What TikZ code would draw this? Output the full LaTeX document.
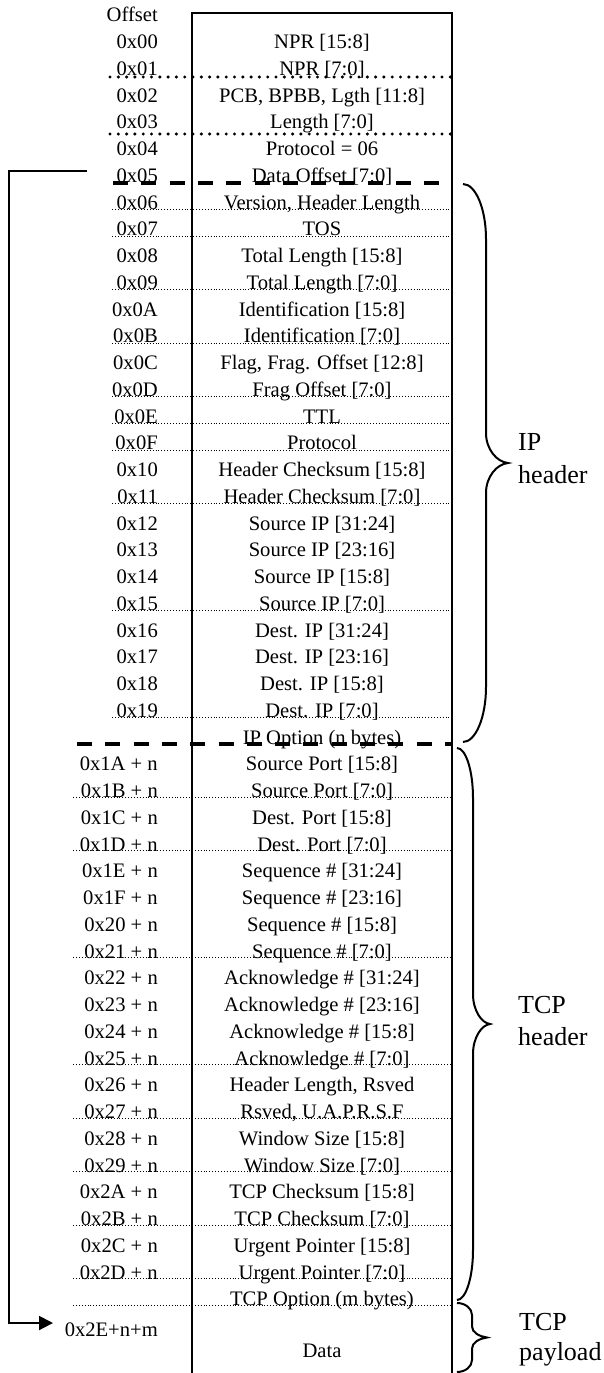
\documentclass[tikz,border=0pt]{standalone}
\usepackage{fontspec}
\setmainfont{Liberation Serif}
\usetikzlibrary{arrows.meta}
\tikzset{
  field/.style={anchor=base, font=\fontsize{20.6}{24}\selectfont, inner sep=0pt},
  offs/.style={anchor=base east, font=\fontsize{20.6}{24}\selectfont, inner sep=0pt},
  lab/.style={anchor=base west, font=\fontsize{26}{30}\selectfont, inner sep=0pt},
  boxline/.style={line width=2pt, line join=miter},
  thickdot/.style={line width=3.4pt, line cap=round, dash pattern=on 0pt off 8.3pt},
  thindot/.style={line width=0.9pt, dash pattern=on 0.9pt off 2pt},
  bigdash/.style={line width=4pt, dash pattern=on 15pt off 13.3pt},
  bracestyle/.style={line width=2pt},
  link/.style={line width=2pt, -{Triangle[length=14pt,width=14pt]}},
}
% #1 x0, #2 xs, #3 xt, #4 ytop, #5 ybot, #6 r, #7 q
\newcommand\myrbrace[7]{%
  \pgfmathsetmacro\bym{(#4+#5)/2}%
  \draw[bracestyle] (#1,#4) .. controls ({#1+0.55*(#2-#1)},#4) and (#2,{#4+0.45*#6}) .. (#2,{#4+#6})
    -- (#2,{\bym-#7}) .. controls (#2,{\bym-0.45*#7}) and ({(#2+#3)/2},{\bym-1}) .. (#3,\bym)
    .. controls ({(#2+#3)/2},{\bym+1}) and (#2,{\bym+0.45*#7}) .. (#2,{\bym+#7})
    -- (#2,{#5-#6}) .. controls (#2,{#5-0.45*#6}) and ({#1+0.55*(#2-#1)},#5) .. (#1,#5);
}
\begin{document}
\begin{tikzpicture}[x=1pt,y=-1pt]
\useasboundingbox (0,0) rectangle (603,1373);

% frame
\draw[boxline] (192,1373) -- (192,13) -- (452,13) -- (452,1373);

% header
\node[offs] (hdr) at (158,21.6) {Offset};

% offsets IP part
\foreach \t [count=\i from 0] in {0x00,0x01,0x02,0x03,0x04,0x05,0x06,0x07,0x08,0x09,0x0A,0x0B,0x0C,0x0D,0x0E,0x0F,0x10,0x11,0x12,0x13,0x14,0x15,0x16,0x17,0x18,0x19}
  \node[offs] (o\i) at (158,{42+26.75*\i+6.6}) {\t};
% offsets TCP part
\foreach \t [count=\i from 27] in {0x1A,0x1B,0x1C,0x1D,0x1E,0x1F,0x20,0x21,0x22,0x23,0x24,0x25,0x26,0x27,0x28,0x29,0x2A,0x2B,0x2C,0x2D}
  \node[offs] (o\i) at (158,{42+26.75*\i+6.6}) {\t{} + n};
\node[offs] (o48) at (158,1336.6) {0x2E+n+m};

% fields
\foreach \t [count=\i from 0] in {
  {NPR [15:8]},{NPR [7:0]},{PCB, BPBB, Lgth [11:8]},{Length [7:0]},{Protocol = 06},{Data Offset [7:0]},
  {Version, Header Length},{TOS},{Total Length [15:8]},{Total Length [7:0]},{Identification [15:8]},{Identification [7:0]},
  {Flag, Frag. Offset [12:8]},{Frag Offset [7:0]},{TTL},{Protocol},{Header Checksum [15:8]},{Header Checksum [7:0]},
  {Source IP [31:24]},{Source IP [23:16]},{Source IP [15:8]},{Source IP [7:0]},
  {Dest. IP [31:24]},{Dest. IP [23:16]},{Dest. IP [15:8]},{Dest. IP [7:0]},{IP Option (n bytes)},
  {Source Port [15:8]},{Source Port [7:0]},{Dest. Port [15:8]},{Dest. Port [7:0]},
  {Sequence \# [31:24]},{Sequence \# [23:16]},{Sequence \# [15:8]},{Sequence \# [7:0]},
  {Acknowledge \# [31:24]},{Acknowledge \# [23:16]},{Acknowledge \# [15:8]},{Acknowledge \# [7:0]},
  {Header Length, Rsved},{Rsved, U.A.P.R.S.F},{Window Size [15:8]},{Window Size [7:0]},
  {TCP Checksum [15:8]},{TCP Checksum [7:0]},{Urgent Pointer [15:8]},{Urgent Pointer [7:0]},{TCP Option (m bytes)}}
  \node[field] (f\i) at (322,{42+26.75*\i+6.6}) {\t};
\node[field] (f48) at (322,1357) {Data};

% separators
\draw[thickdot] (110,77) -- (452,77);
\draw[thickdot] (110,134) -- (452,134);
\draw[bigdash] (113,183) -- (452,183);
\draw[bigdash] (77,744) -- (452,744);
\foreach \k in {6,7,9,11,13,14,15,17,21,25}
  \draw[thindot] (112,{42+26.75*\k+7}) -- (452,{42+26.75*\k+7});
\foreach \k in {28,30,34,38,40,42,44,46,47}
  \draw[thindot] (73,{42+26.75*\k+6}) -- (452,{42+26.75*\k+6});

% link arrow
\coordinate (arrS) at (87,171);
\coordinate (arrC) at (9,171);
\coordinate (arrE) at (53,1323);
\draw[link] (arrS) -- (arrC) |- (arrE);

% braces
\myrbrace{463}{486}{508}{184}{742}{55}{30}
\myrbrace{457}{473}{490}{748}{1300}{50}{30}
\myrbrace{457}{472}{487}{1303}{1372}{12}{11}

% labels
\node[lab] (ip1) at (518,450) {IP};
\node[lab] (ip2) at (518,483) {header};
\node[lab] (tcp1) at (518,1013) {TCP};
\node[lab] (tcp2) at (518,1045) {header};
\node[lab] (pl1) at (519,1330) {TCP};
\node[lab] (pl2) at (519,1360) {payload};
\end{tikzpicture}
\end{document}
